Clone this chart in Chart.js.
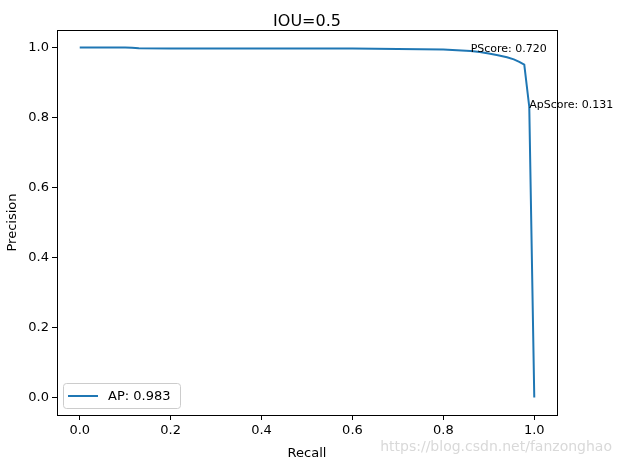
<!DOCTYPE html>
<html lang="en">
<head>
  <meta charset="UTF-8" />
  <title>IOU=0.5</title>
  <script src="https://cdn.jsdelivr.net/npm/chart.js"></script>
  <style>
    body {
      margin: 0;
      background: #fff;
      font-family: 'DejaVu Sans', sans-serif;
    }
    #pr {
      display: block;
    }
  </style>
</head>
<body>
  <canvas id="pr" width="617" height="464"></canvas>

  <script>
    // PR curve
    const recall = [0, 0.05, 0.10, 0.115, 0.13, 0.2, 0.4, 0.6, 0.7, 0.75, 0.8, 0.83, 0.86, 0.88, 0.90, 0.92, 0.94, 0.955, 0.967, 0.978, 0.989, 1.0];
    const precision = [1.0, 1.0, 1.0, 0.999, 0.998, 0.997, 0.997, 0.997, 0.996, 0.995, 0.994, 0.992, 0.99, 0.987, 0.983, 0.978, 0.972, 0.966, 0.959, 0.951, 0.83, 0.0];
    const seriesLabel = "AP: 0.983";
    const chartTitle = "IOU=0.5";
    const tickValues = [0, 0.2, 0.4, 0.6, 0.8, 1.0];

    // text notes, placed in data coordinates
    const noteText = ["PScore: 0.720", "ApScore: 0.131"];
    const noteX = [0.86, 0.989];
    const noteY = [0.988, 0.828];

    const blue = '#1f77b4';
    const font = "'DejaVu Sans', sans-serif";

    const frame = {
      id: 'frame',
      afterDraw(chart) {
        const ctx = chart.ctx;
        const a = chart.chartArea;
        ctx.save();
        ctx.strokeStyle = '#000';
        ctx.lineWidth = 1;
        ctx.strokeRect(Math.round(a.left) + 0.5, Math.round(a.top) + 0.5,
          Math.round(a.right - a.left), Math.round(a.bottom - a.top));

        // title over the plot area
        ctx.fillStyle = '#000';
        ctx.font = "16px " + font;
        ctx.textAlign = 'center';
        ctx.textBaseline = 'alphabetic';
        ctx.fillText(chartTitle, (a.left + a.right) / 2, 26);

        // notes
        const xs = chart.scales.x, ys = chart.scales.y;
        ctx.font = "11px " + font;
        ctx.textAlign = 'left';
        noteText.forEach((t, i) => {
          ctx.fillText(t, xs.getPixelForValue(noteX[i]), ys.getPixelForValue(noteY[i]));
        });

        // legend in lower left
        const lx = a.left + 6, ly = a.bottom - 32;
        ctx.fillStyle = 'rgba(255,255,255,0.8)';
        ctx.strokeStyle = '#cccccc';
        ctx.beginPath();
        ctx.roundRect(lx + 0.5, ly + 0.5, 117, 25, 3);
        ctx.fill();
        ctx.stroke();
        ctx.strokeStyle = blue;
        ctx.lineWidth = 2;
        ctx.beginPath();
        ctx.moveTo(lx + 5, ly + 13);
        ctx.lineTo(lx + 35, ly + 13);
        ctx.stroke();
        ctx.fillStyle = '#000';
        ctx.font = "13px " + font;
        ctx.textBaseline = 'middle';
        ctx.fillText(seriesLabel, lx + 45, ly + 13.5);

        // watermark
        ctx.fillStyle = '#d9d9d9';
        ctx.font = "14px " + font;
        ctx.textAlign = 'right';
        ctx.textBaseline = 'alphabetic';
        ctx.fillText("https://blog.csdn.net/fanzonghao", 612, 451);
        ctx.restore();
      }
    };

    const axisBase = {
      type: 'linear',
      min: -0.05,
      max: 1.05,
      afterBuildTicks(scale) {
        scale.ticks = tickValues.map(v => ({ value: v }));
      },
      grid: {
        drawOnChartArea: false,
        drawTicks: true,
        tickLength: 5,
        tickColor: '#000'
      },
      border: { display: true, color: '#000', width: 1 },
      ticks: {
        color: '#000',
        padding: 3,
        font: { family: font, size: 13 },
        callback: v => v.toFixed(1)
      }
    };

    new Chart(document.getElementById('pr'), {
      type: 'scatter',
      data: {
        datasets: [{
          label: seriesLabel,
          data: recall.map((r, i) => ({ x: r, y: precision[i] })),
          showLine: true,
          borderColor: blue,
          backgroundColor: blue,
          borderWidth: 2,
          pointRadius: 0,
          tension: 0
        }]
      },
      options: {
        responsive: false,
        animation: false,
        layout: { padding: { top: 30, right: 60, left: 0, bottom: 0 } },
        plugins: {
          legend: { display: false },
          tooltip: { enabled: false },
          title: { display: false }
        },
        scales: {
          x: Object.assign({}, axisBase, {
            afterFit(scale) { scale.height = 49; },
            title: { display: true, text: 'Recall', color: '#000', font: { family: font, size: 13 }, padding: { top: 4, bottom: 3 } }
          }),
          y: Object.assign({}, axisBase, {
            afterFit(scale) { scale.width = 57; },
            title: { display: true, text: 'Precision', color: '#000', font: { family: font, size: 13 }, padding: { top: 5, bottom: 3 } }
          })
        }
      },
      plugins: [frame]
    });
  </script>
</body>
</html>
